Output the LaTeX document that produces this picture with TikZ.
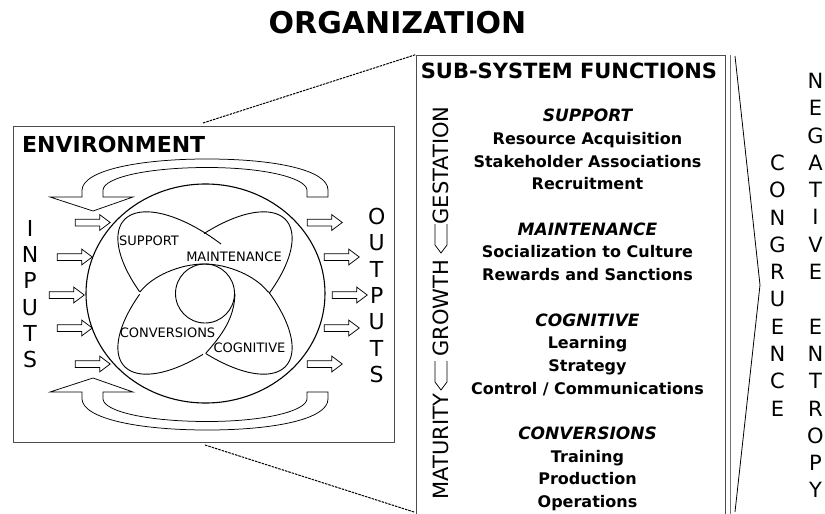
\documentclass[tikz,border=0pt]{standalone}
\usepackage{fontspec}
\setmainfont{DejaVu Sans}
\usetikzlibrary{calc,shapes.arrows,shapes.geometric}
\begin{document}
\begin{tikzpicture}[x=1pt,y=-1pt,
  thinline/.style={line width=0.75pt},
  petal/.style={line width=0.9pt},
  blockarrow/.style={single arrow, draw, line width=0.75pt, minimum height=35pt, inner sep=3pt,
    single arrow head extend=4.5pt, single arrow tip angle=74, single arrow head indent=0pt},
  vcol/.style={font=\fontsize{22}{26.3}\selectfont, align=center, inner sep=0pt},
  rcol/.style={font=\fontsize{21}{27.3}\selectfont, align=center, inner sep=0pt},
  lbl/.style={font=\fontsize{13}{15}\selectfont, inner sep=0pt},
  body/.style={font=\bfseries\fontsize{16}{19}\selectfont, anchor=base, inner sep=0pt},
  headline/.style={font=\bfseries\itshape\fontsize{17}{20}\selectfont, anchor=base, inner sep=0pt},
  stage/.style={font=\fontsize{21}{24}\selectfont, rotate=90, inner sep=0pt},
  framebox/.style={draw=black!70, line width=0.9pt, inner sep=0pt},
  dashline/.style={line width=1pt, dash pattern=on 2.5pt off 1pt},
]
\useasboundingbox (0,0) rectangle (825,514);

% title
\node[font=\bfseries\fontsize{30}{33}\selectfont, anchor=base, inner sep=0pt] (org) at (397.5,33.3) {ORGANIZATION};

% environment box
\node[framebox, minimum width=381pt, minimum height=316pt] (env) at (203.5,284) {};
\node[font=\bfseries\fontsize{22}{26}\selectfont, anchor=base west, inner sep=0pt] (envt) at (22,152) {ENVIRONMENT};

% sub-system box
\node[framebox, minimum width=309pt, minimum height=470pt] (ssf) at (571,290) {};
\node[font=\bfseries\fontsize{21}{24}\selectfont, anchor=base, inner sep=0pt] (ssft) at (569,78.3) {SUB-SYSTEM FUNCTIONS};

% dashed connectors
\coordinate (dtop) at (203,123);
\coordinate (dbot) at (205,445);
\coordinate (dend) at (414,512);
\draw[dashline] (dtop) -- (ssf.north west);
\draw[dashline] (dbot) -- (dend);

% big circle
\node[draw, line width=1.1pt, ellipse, minimum width=239pt, minimum height=219pt, inner sep=0pt] (sys) at (205.5,293.5) {};
% small inner circle
\node[draw, line width=0.9pt, circle, minimum size=59pt, inner sep=0pt] (core) at (205,293.5) {};

% petals
\draw[petal] plot[domain=243:101, samples=60, variable=\t] ({205+81.0*cos(\t)+32.1*sin(\t)}, {293+72.9*cos(\t)-35.7*sin(\t)});
\draw[petal] plot[domain=-68:65, samples=60, variable=\t] ({205+81.0*cos(\t)+32.1*sin(\t)}, {293+72.9*cos(\t)-35.7*sin(\t)});
\draw[petal] plot[domain=-69:64, samples=60, variable=\t] ({205+81.0*cos(\t)+32.1*sin(\t)}, {293-72.9*cos(\t)+35.7*sin(\t)});
\draw[petal] plot[domain=243:113, samples=60, variable=\t] ({205+81.0*cos(\t)+32.1*sin(\t)}, {293-72.9*cos(\t)+35.7*sin(\t)});
\coordinate (jl) at (140,292);
\coordinate (jr) at (268,292);
\coordinate (jb) at (206,353);
\draw[petal] (jl) .. controls (152,276) and (180,264) .. (204,264) .. controls (228,264) and (256,276) .. (jr);
\draw[petal] (jb) .. controls (222,335) and (234.5,318) .. (core.east);

% petal labels
\node[lbl] (lsup) at (149,240.5) {SUPPORT};
\node[lbl] (lmai) at (234,257) {MAINTENANCE};
\node[lbl] (lcon) at (167.5,332.5) {CONVERSIONS};
\node[lbl] (lcog) at (249.5,348) {COGNITIVE};

% feedback loops
\draw[thinline] (82,197) -- (82,190) .. controls (83,170) and (140,159) .. (207,159)
  .. controls (275,159) and (328,170) .. (328,190) -- (328,197) -- (307,197) -- (307,190)
  .. controls (306,178) and (265,167.5) .. (207,167.5)
  .. controls (150,167.5) and (104,177) .. (103,190) -- (103,197) -- (133,197) -- (93,211) -- (50,197) -- cycle;
\draw[thinline] (82,392) -- (82,399) .. controls (83,419) and (140,430) .. (207,430)
  .. controls (275,430) and (328,419) .. (328,399) -- (328,392) -- (307,392) -- (307,399)
  .. controls (306,411) and (265,421.5) .. (207,421.5)
  .. controls (150,421.5) and (104,412) .. (103,399) -- (103,392) -- (133,392) -- (93,378) -- (50,392) -- cycle;

% input / output arrows
\node[blockarrow] (in1) at (90.4,222.5) {};
\node[blockarrow] (in2) at (72.5,257) {};
\node[blockarrow] (in3) at (64.5,295) {};
\node[blockarrow] (in4) at (72.5,328) {};
\node[blockarrow] (in5) at (90.4,364) {};
\node[blockarrow] (out1) at (322.5,222.5) {};
\node[blockarrow] (out2) at (339.5,257) {};
\node[blockarrow] (out3) at (347.5,295) {};
\node[blockarrow] (out4) at (339.5,328) {};
\node[blockarrow] (out5) at (322.5,364) {};

% letter columns
\node[vcol] (inputs) at (30,294) {I\\N\\P\\U\\T\\S};
\node[vcol] (outputs) at (376.7,295.5) {O\\U\\T\\P\\U\\T\\S};
\node[rcol] (negent) at (815.5,285.5) {N\\E\\G\\A\\T\\I\\V\\E\\\mbox{}\\E\\N\\T\\R\\O\\P\\Y};
\node[rcol] (congr) at (777.5,285.5) {C\\O\\N\\G\\R\\U\\E\\N\\C\\E};

% life stages
\node[stage] (gest) at (441,165.5) {GESTATION};
\node[stage] (grow) at (441,308.3) {GROWTH};
\node[stage] (matu) at (441,446.7) {MATURITY};
\draw[thinline] (435,224) -- (435,245) -- (441,253) -- (447,245) -- (447,224);
\draw[thinline] (435,361) -- (435,382) -- (441,390) -- (447,382) -- (447,361);

% sub-system functions
\node[headline] (h1) at (587.5,121.7) {SUPPORT};
\node[body] (b11) at (587.5,144.4) {Resource Acquisition};
\node[body] (b12) at (587.5,167.1) {Stakeholder Associations};
\node[body] (b13) at (587.5,189.8) {Recruitment};
\node[headline] (h2) at (587.5,235.2) {MAINTENANCE};
\node[body] (b21) at (587.5,257.9) {Socialization to Culture};
\node[body] (b22) at (587.5,280.6) {Rewards and Sanctions};
\node[headline] (h3) at (587.5,326.0) {COGNITIVE};
\node[body] (b31) at (587.5,348.7) {Learning};
\node[body] (b32) at (587.5,371.4) {Strategy};
\node[body] (b33) at (587.5,394.1) {Control / Communications};
\node[headline] (h4) at (587.5,439.5) {CONVERSIONS};
\node[body] (b41) at (587.5,462.2) {Training};
\node[body] (b42) at (587.5,484.9) {Production};
\node[body] (b43) at (587.5,507.6) {Operations};

% congruence chevron
\coordinate (bar1) at (730.5,55);
\coordinate (bar2) at (730.5,520);
\draw[line width=1.5pt, black!55] (bar1) -- (bar2);
\coordinate (chtop) at (735,56);
\coordinate (chtip) at (760,285);
\coordinate (chbot) at (735,512);
\draw[line width=0.8pt] (chtop) -- (chtip) -- (chbot);
\end{tikzpicture}
\end{document}
